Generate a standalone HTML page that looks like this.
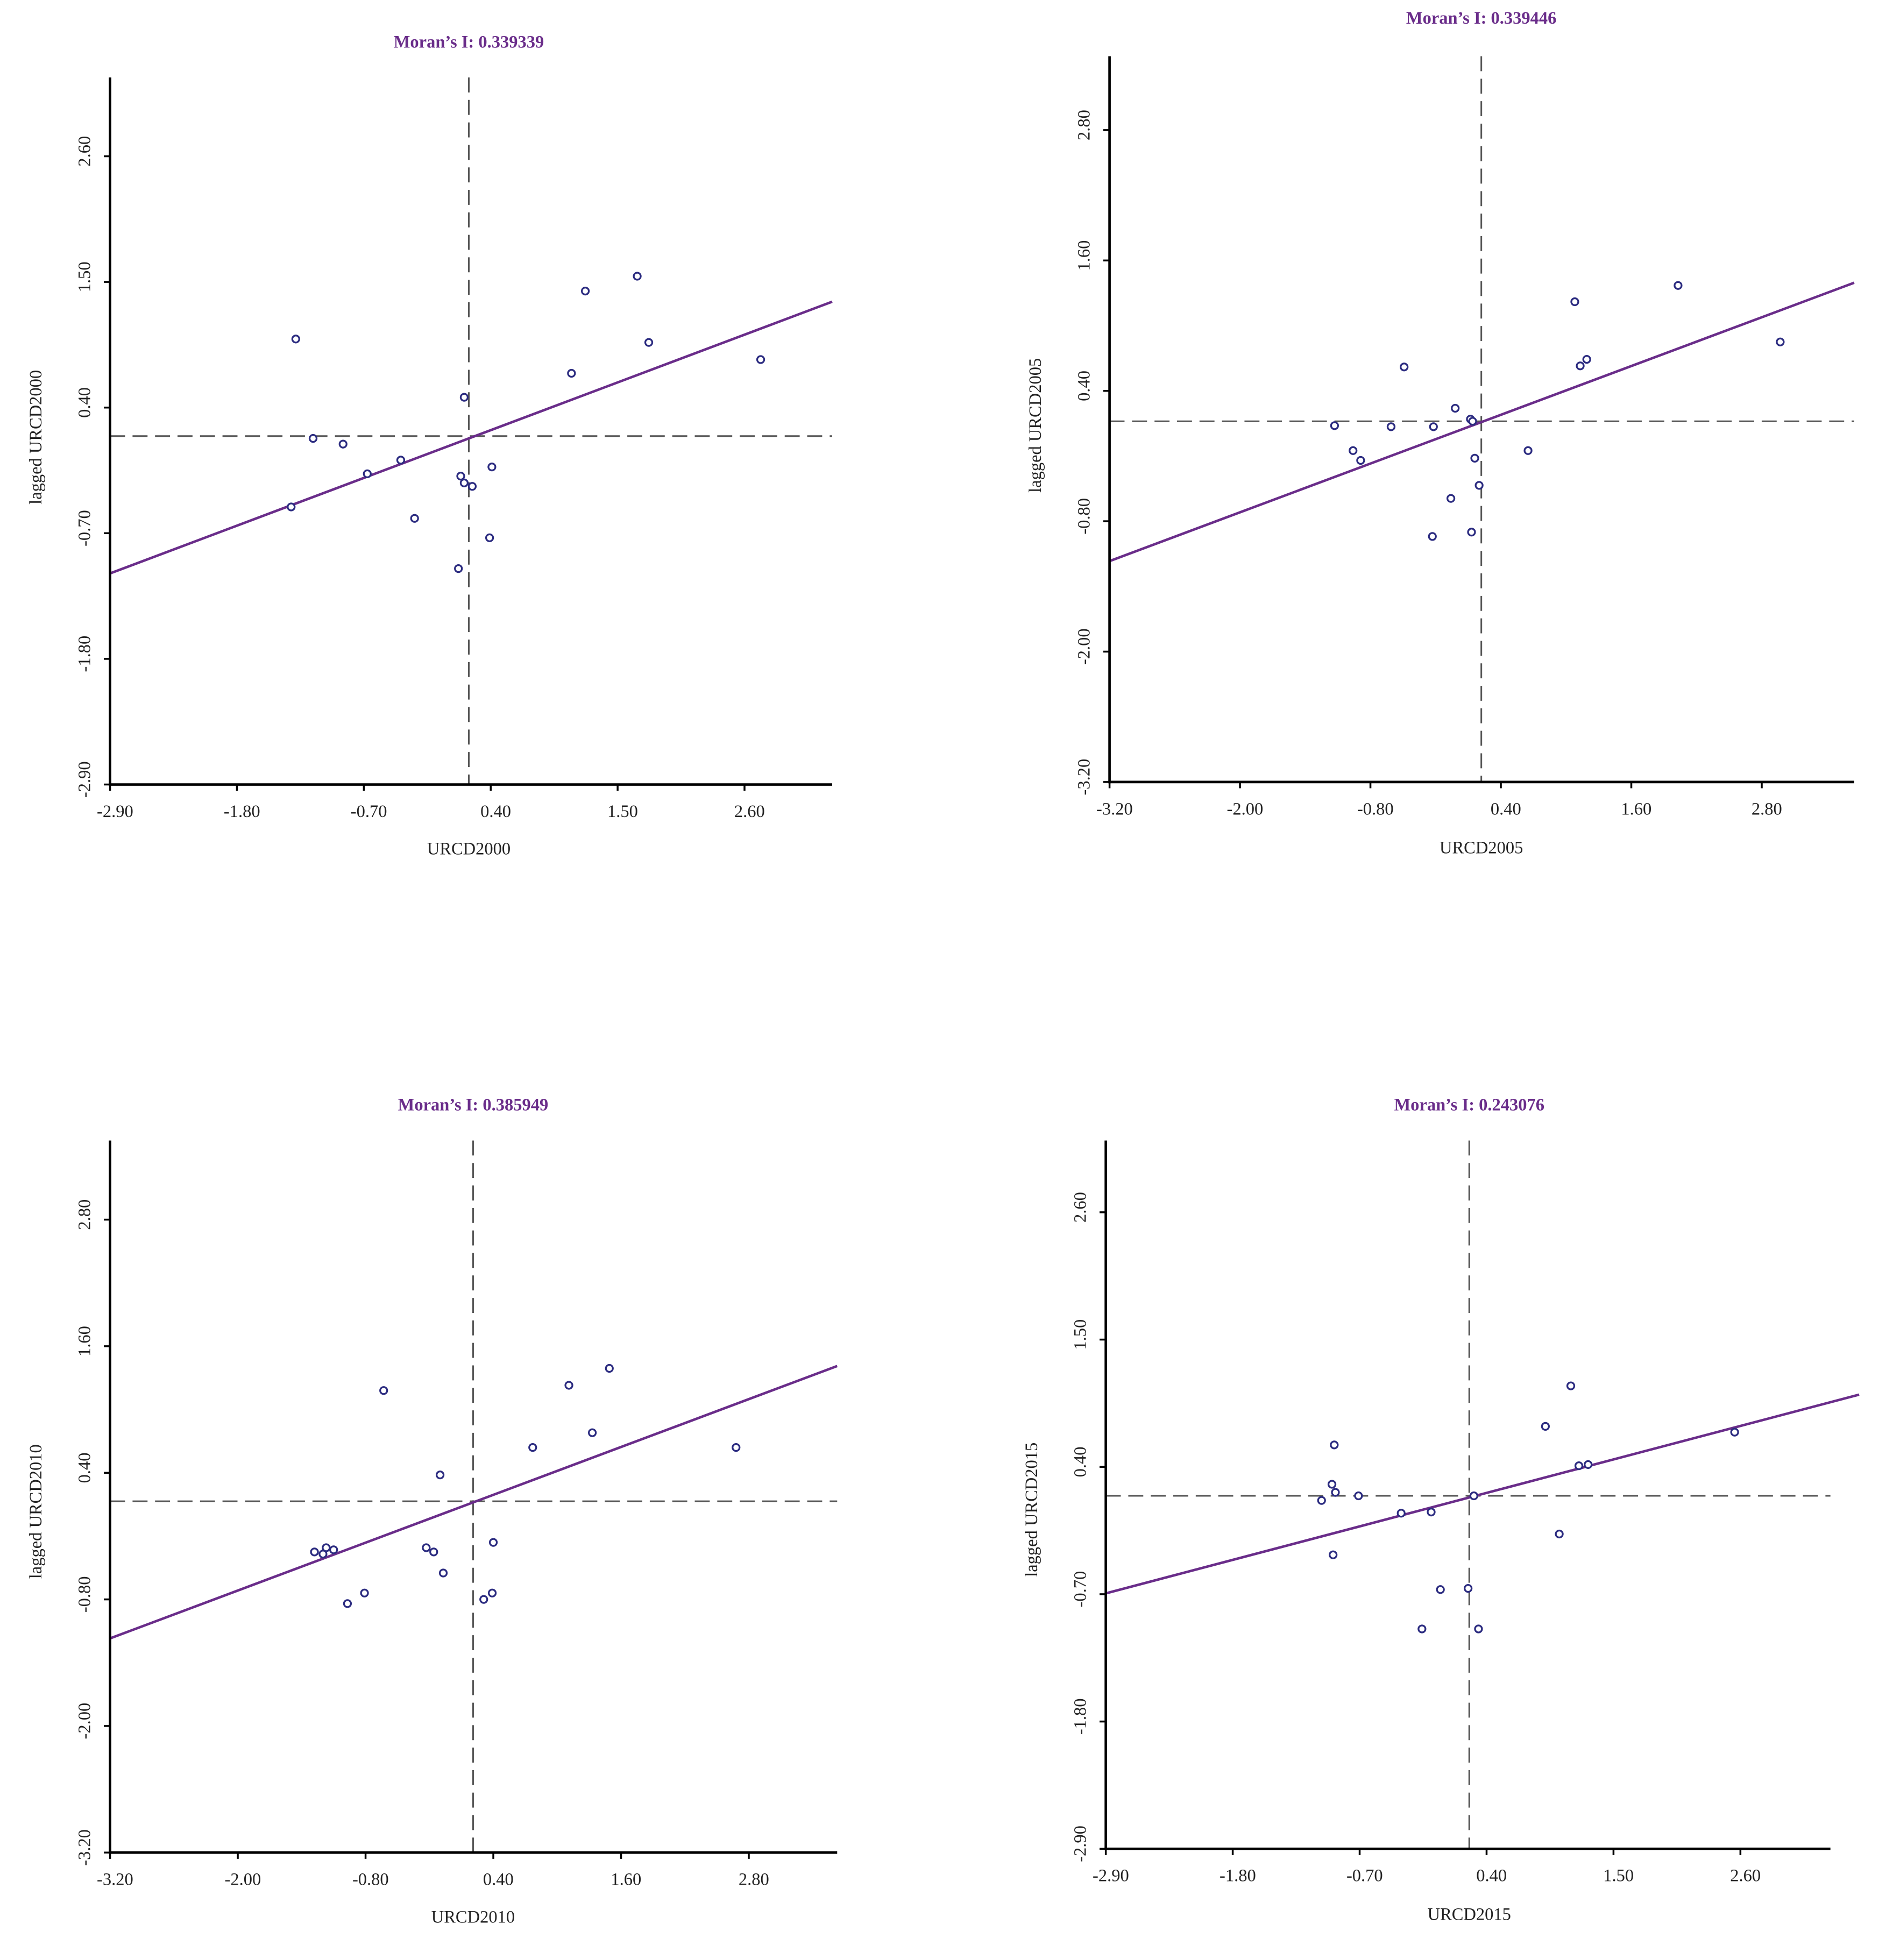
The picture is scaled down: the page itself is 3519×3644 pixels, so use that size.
<!DOCTYPE html>
<html><head><meta charset="utf-8"><style>
html,body{margin:0;padding:0;background:#fff;}
svg{display:block;}
text{font-family:"Liberation Serif",serif;}
</style></head><body>
<svg id="chart" width="3519" height="3644" viewBox="0 0 1515 1569" xmlns="http://www.w3.org/2000/svg"></svg>
<script>
// ---- data ----
const p1x=[-1.29,-1.14,-0.88,-0.67,-0.38,-1.33,-0.26,0.17,0.14,0.17,0.24,0.41,0.39,0.12,1.22,1.67,1.77,1.10,2.74];
const p1y=[1.00,0.13,0.08,-0.18,-0.06,-0.47,-0.57,0.49,-0.20,-0.26,-0.29,-0.12,-0.74,-1.01,1.42,1.55,0.97,0.70,0.82];
const p2x=[-1.13,-0.96,-0.89,-0.61,-0.49,-0.22,-0.02,0.12,0.14,0.16,0.20,-0.06,-0.23,0.13,0.65,1.08,1.13,1.19,2.03,2.97];
const p2y=[0.08,-0.15,-0.24,0.07,0.62,0.07,0.24,0.14,0.12,-0.22,-0.47,-0.59,-0.94,-0.90,-0.15,1.22,0.63,0.69,1.37,0.85];
const p3x=[-1.28,-1.20,-1.17,-1.10,-0.97,-0.81,-0.63,-0.23,-0.16,-0.10,-0.07,0.31,0.39,0.40,0.77,1.11,1.33,1.49,2.68];
const p3y=[-0.35,-0.37,-0.31,-0.33,-0.84,-0.74,1.18,-0.31,-0.35,0.38,-0.55,-0.80,-0.74,-0.26,0.64,1.23,0.78,1.39,0.64];
const p4x=[-1.03,-0.94,-0.91,-0.92,-0.93,-0.71,-0.34,-0.08,0.00,-0.16,0.24,0.29,0.33,0.91,1.13,1.03,1.20,1.28,2.55];
const p4y=[0.11,0.25,0.18,0.59,-0.36,0.15,0.00,0.01,-0.66,-1.00,-0.65,0.15,-1.00,0.75,1.10,-0.18,0.41,0.42,0.70];
const ticksA=[-2.90,-1.80,-0.70,0.40,1.50,2.60];
const ticksB=[-3.20,-2.00,-0.80,0.40,1.60,2.80];
const titles=["Moran’s I: 0.339339","Moran’s I: 0.339446","Moran’s I: 0.385949","Moran’s I: 0.243076"];
const years=["2000","2005","2010","2015"];
const meanX=[0.21,0.22,0.21,0.25];
const meanY=[0.15,0.12,0.13,0.15];
const intercepts=[0.05,0.03,0.04,0.07];
const slopes=[0.38,0.374,0.378,0.263];

// ---- layout ----
const panels=[
 {L:88,R:666,T:62,B:628,xmin:-2.9,xmax:3.36,ymin:-2.9,ymax:3.29,ticks:ticksA,xs:p1x,ys:p1y,lineEnd:666,titleY:38,xlabY:684},
 {L:888,R:1484,T:45,B:626,xmin:-3.2,xmax:3.65,ymin:-3.2,ymax:3.48,ticks:ticksB,xs:p2x,ys:p2y,lineEnd:1484,titleY:19,xlabY:683},
 {L:88,R:670,T:913,B:1483,xmin:-3.2,xmax:3.63,ymin:-3.2,ymax:3.55,ticks:ticksB,xs:p3x,ys:p3y,lineEnd:670,titleY:889,xlabY:1539},
 {L:885,R:1465,T:913,B:1480,xmin:-2.9,xmax:3.38,ymin:-2.9,ymax:3.22,ticks:ticksA,xs:p4x,ys:p4y,lineEnd:1488,titleY:889,xlabY:1537}
];
const NS="http://www.w3.org/2000/svg";
const svg=document.getElementById('chart');
function mk(tag,attrs,parent){const e=document.createElementNS(NS,tag);for(const k in attrs)e.setAttribute(k,attrs[k]);(parent||svg).appendChild(e);return e;}

panels.forEach((p,i)=>{
 const g=mk('g',{});
 
 
 const sx=v=>p.L+(v-p.xmin)/(p.xmax-p.xmin)*(p.R-p.L);
 const sy=v=>p.B-(v-p.ymin)/(p.ymax-p.ymin)*(p.B-p.T);
 const t=mk('text',{x:sx(meanX[i]),y:p.titleY,'text-anchor':'middle','font-size':14,'font-weight':'bold',fill:'#6a2d8a'},g);
 t.textContent=titles[i];
 
 
 const vl=mk('line',{x1:sx(meanX[i]),x2:sx(meanX[i]),y1:p.T,y2:p.B,stroke:'#555','stroke-width':1.3,'stroke-dasharray':'12,6'},g);
 
 
 const hl=mk('line',{x1:p.L,x2:p.R,y1:sy(meanY[i]),y2:sy(meanY[i]),stroke:'#555','stroke-width':1.3,'stroke-dasharray':'12,6'},g);
 
 
 const xEnd=p.xmin+(p.lineEnd-p.L)/(p.R-p.L)*(p.xmax-p.xmin);
 const rl=mk('line',{x1:sx(p.xmin),y1:sy(intercepts[i]+slopes[i]*p.xmin),x2:sx(xEnd),y2:sy(intercepts[i]+slopes[i]*xEnd),stroke:'#6a2d8a','stroke-width':2},g);
 
 
 const ya=mk('line',{x1:p.L,x2:p.L,y1:p.T,y2:p.B+1,stroke:'#000','stroke-width':2},g);
 
 
 const xa=mk('line',{x1:p.L-1,x2:p.R,y1:p.B,y2:p.B,stroke:'#000','stroke-width':2},g);
 
 
 p.ticks.forEach(v=>{
  const tx=mk('line',{x1:sx(v),x2:sx(v),y1:p.B,y2:p.B+5,stroke:'#000','stroke-width':1.5},g);
  
  
  const lx=mk('text',{x:sx(v)+4,y:p.B+26,'text-anchor':'middle','font-size':14,fill:'#222'},g);
  lx.textContent=v.toFixed(2);
  
  
  const ty=mk('line',{x1:p.L-5,x2:p.L,y1:sy(v),y2:sy(v),stroke:'#000','stroke-width':1.5},g);
  
  
  const yy=sy(v)-4, xx=p.L-16;
  const ly=mk('text',{x:xx,y:yy,'text-anchor':'middle','font-size':14,fill:'#222',transform:`rotate(-90 ${xx} ${yy})`},g);
  ly.textContent=v.toFixed(2);
  
  
 });
 const xt=mk('text',{x:sx(meanX[i]),y:p.xlabY,'text-anchor':'middle','font-size':14,fill:'#222'},g);
 xt.textContent='URCD'+years[i];
 
 
 const ax=p.L-55, ay=(p.T+p.B)/2+ (i<2?5:12);
 const yt=mk('text',{x:ax,y:ay,'text-anchor':'middle','font-size':14,fill:'#222',transform:`rotate(-90 ${ax} ${ay})`},g);
 yt.textContent='lagged URCD'+years[i];
 
 
 p.xs.forEach((v,k)=>{
  const c=mk('circle',{cx:sx(v),cy:sy(p.ys[k]),r:2.8,fill:'#fff',stroke:'#2b2b80','stroke-width':1.4},g);
  
  
 });
});
</script>
</body></html>
